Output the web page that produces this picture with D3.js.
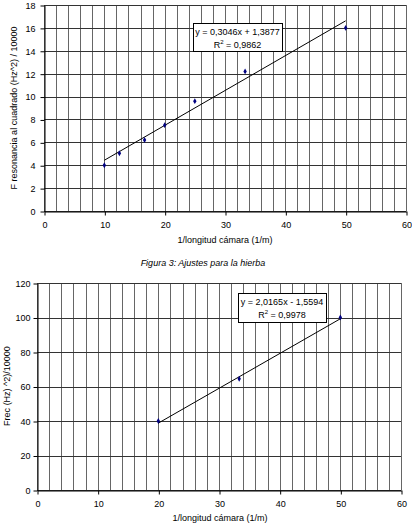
<!DOCTYPE html>
<html>
<head>
<meta charset="utf-8">
<script src="https://cdn.jsdelivr.net/npm/d3@7"></script>
<style>
  body { margin: 0; background: #fff; }
  text { font-family: "Liberation Sans", Arial, sans-serif; }
</style>
</head>
<body>
<svg id="fig" width="412" height="530"></svg>
<script>
// chart 1 data
var lenInv1 = [10, 12.5, 16.67, 20, 25, 33.33, 50];
var freq1 = [4.0, 5.05, 6.2, 7.5, 9.6, 12.2, 16.0];
var slope1 = 0.3046, icpt1 = 1.3877;
var yTicks1 = [0, 2, 4, 6, 8, 10, 12, 14, 16, 18];

// chart 2 data
var lenInv2 = [20, 33.33, 50];
var freq2 = [40, 64.5, 100];
var slope2 = 2.0165, icpt2 = -1.5594;
var yTicks2 = [0, 20, 40, 60, 80, 100, 120];

var xTicks = [0, 10, 20, 30, 40, 50, 60];
var xGrid = d3.range(0, 61, 2);

var svg = d3.select("#fig");

function drawChart(o) {
  var x = d3.scaleLinear().domain([0, 60]).range([o.left, o.right]);
  var y = d3.scaleLinear().domain([0, o.ymax]).range([o.bottom, o.top]);
  var g = svg.append("g");

  // grid
  g.selectAll(".vg").data(xGrid).enter().append("line")
    .attr("x1", function(d) { return Math.round(x(d)) + 0.5; })
    .attr("x2", function(d) { return Math.round(x(d)) + 0.5; })
    .attr("y1", o.top).attr("y2", o.bottom)
    .attr("stroke", "#666").attr("stroke-width", 1);
  g.selectAll(".hg").data(o.yTicks).enter().append("line")
    .attr("x1", o.left).attr("x2", o.right)
    .attr("y1", function(d) { return Math.round(y(d)) + 0.5; })
    .attr("y2", function(d) { return Math.round(y(d)) + 0.5; })
    .attr("stroke", "#333").attr("stroke-width", 1);

  // axes
  var yAxis = g.append("g")
    .attr("transform", "translate(" + (Math.round(o.left) + 0.5) + ",0.5)")
    .call(d3.axisLeft(y).tickValues(o.yTicks).tickSize(4).tickPadding(o.ypad).tickSizeOuter(0));
  var xAxis = g.append("g")
    .attr("transform", "translate(0.5," + (Math.round(o.bottom) + 0.5) + ")")
    .call(d3.axisBottom(x).tickValues(xTicks).tickSize(4).tickPadding(6).tickSizeOuter(0));
  [yAxis, xAxis].forEach(function(a) {
    a.select(".domain").attr("stroke", "#000");
    a.selectAll("line").attr("stroke", "#000");
    a.selectAll("text").attr("font-size", 9).attr("fill", "#000")
      .attr("font-family", "Liberation Sans, Arial, sans-serif");
  });

  // trend line
  var x0 = d3.min(o.xs), x1 = d3.max(o.xs);
  g.append("line")
    .attr("x1", x(x0)).attr("y1", y(o.slope * x0 + o.icpt))
    .attr("x2", x(x1)).attr("y2", y(o.slope * x1 + o.icpt))
    .attr("stroke", "#000").attr("stroke-width", 1);

  // points
  g.selectAll(".pt").data(o.xs).enter().append("path")
    .attr("d", d3.symbol().type(d3.symbolDiamond).size(10))
    .attr("transform", function(d, i) { return "translate(" + x(d) + "," + y(o.ys[i]) + ")"; })
    .attr("fill", "#000080");

  // equation box
  var b = o.box;
  g.append("rect").attr("x", b[0] + 0.5).attr("y", b[1] + 0.5)
    .attr("width", b[2]).attr("height", b[3])
    .attr("fill", "#fff").attr("stroke", "#000");
  g.append("text").attr("x", b[0] + b[2] / 2).attr("y", b[1] + 12)
    .attr("text-anchor", "middle").attr("font-size", 9).text(o.eq);
  var r = g.append("text").attr("x", b[0] + b[2] / 2).attr("y", b[1] + 25)
    .attr("text-anchor", "middle").attr("font-size", 9);
  r.append("tspan").text("R");
  r.append("tspan").attr("dy", -4).attr("font-size", 6).text("2");
  r.append("tspan").attr("dy", 4).text(" = " + o.r2);

  // titles
  g.append("text").attr("x", o.xtX).attr("y", o.xtY)
    .attr("text-anchor", "middle").attr("font-size", 9).text("1/longitud cámara (1/m)");
  g.append("text")
    .attr("transform", "translate(" + o.ytX + "," + o.ytY + ") rotate(-90)")
    .attr("text-anchor", "middle").attr("font-size", 9).text(o.ytitle);
}

drawChart({
  left: 44, right: 406, top: 5, bottom: 211, ymax: 18, yTicks: yTicks1, ypad: 5,
  xs: lenInv1, ys: freq1, slope: slope1, icpt: icpt1,
  box: [193, 23, 89, 28], eq: "y = 0,3046x + 1,3877", r2: "0,9862",
  xtX: 225, xtY: 243, ytX: 17, ytY: 108,
  ytitle: "F resonancia al cuadrado (Hz^2) / 10000"
});

svg.append("text").attr("x", 203).attr("y", 266)
  .attr("text-anchor", "middle").attr("font-size", 9).attr("font-style", "italic")
  .text("Figura 3: Ajustes para la hierba");

drawChart({
  left: 37, right: 401, top: 283, bottom: 490, ymax: 120, yTicks: yTicks2, ypad: 3,
  xs: lenInv2, ys: freq2, slope: slope2, icpt: icpt2,
  box: [238, 293, 88, 29], eq: "y = 2,0165x - 1,5594", r2: "0,9978",
  xtX: 220, xtY: 521, ytX: 10, ytY: 386,
  ytitle: "Frec (Hz) ^2)/10000"
});
</script>
</body>
</html>
